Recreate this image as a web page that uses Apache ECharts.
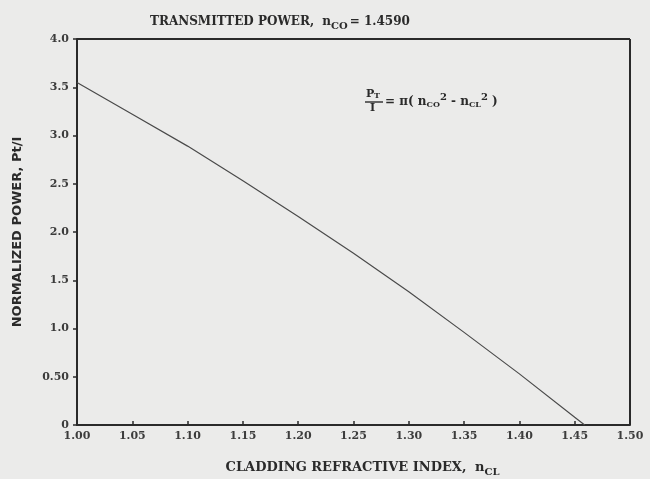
<!DOCTYPE html>
<html>
<head>
<meta charset="utf-8">
<script src="https://cdn.jsdelivr.net/npm/echarts@6/dist/echarts.min.js"></script>
<style>
  html, body { margin: 0; padding: 0; background: #ebebea; }
  #chart { width: 650px; height: 479px; }
</style>
</head>
<body>
<div id="chart"></div>
<script>
const nCl = [1.00, 1.05, 1.10, 1.15, 1.20, 1.25, 1.30, 1.35, 1.40, 1.45, 1.459];
const power = [3.55, 3.22, 2.89, 2.53, 2.16, 1.78, 1.38, 0.96, 0.53, 0.08, 0];
const yTickLabels = { 0: '0', 0.5: '0.50', 1: '1.0', 1.5: '1.5', 2: '2.0', 2.5: '2.5', 3: '3.0', 3.5: '3.5', 4: '4.0' };

const serif = 'DejaVu Serif';
const ink = '#2a2a2a';

const chart = echarts.init(document.getElementById('chart'));

const option = {
  backgroundColor: '#ebebea',
  animation: false,
  title: {
    text: 'TRANSMITTED POWER, {n|n}{sub|CO}{eq|= 1.4590}',
    left: 145,
    top: 7,
    textStyle: {
      fontFamily: serif, fontWeight: 'bold', fontSize: 12, color: ink,
      rich: {
        n: { fontFamily: serif, fontWeight: 'bold', fontSize: 12, color: ink, padding: [0, 0, 0, 4] },
        sub: { fontFamily: serif, fontWeight: 'bold', fontSize: 10, color: ink, padding: [9, 0, 0, 0] },
        eq: { fontFamily: serif, fontWeight: 'bold', fontSize: 12, color: ink, padding: [0, 0, 0, 2] }
      }
    }
  },
  grid: { left: 77, right: 20, top: 39, bottom: 54, outerBoundsMode: 'none' },
  xAxis: {
    type: 'value',
    min: 1.0,
    max: 1.5,
    interval: 0.05,
    name: 'CLADDING REFRACTIVE INDEX, {n|n}{sub|CL}',
    nameLocation: 'middle',
    nameGap: 33,
    nameTextStyle: {
      fontFamily: serif, fontWeight: 'bold', fontSize: 13, color: ink, padding: [0, 0, 0, 18],
      rich: {
        n: { fontFamily: serif, fontWeight: 'bold', fontSize: 13, color: ink, padding: [0, 0, 0, 4] },
        sub: { fontFamily: serif, fontWeight: 'bold', fontSize: 10, color: ink, padding: [9, 0, 0, 0] }
      }
    },
    axisLine: { show: true, onZero: false, lineStyle: { color: ink, width: 2 } },
    axisTick: { show: true, inside: true, length: 4, lineStyle: { color: ink, width: 1.5 } },
    axisLabel: {
      fontFamily: serif, fontWeight: 'bold', fontSize: 11, color: '#3c3c3c', margin: 6,
      formatter: v => v.toFixed(2)
    },
    splitLine: { show: false }
  },
  yAxis: {
    type: 'value',
    min: 0,
    max: 4,
    interval: 0.5,
    name: 'NORMALIZED POWER, Pt/I',
    nameLocation: 'middle',
    nameGap: 53,
    nameTextStyle: { fontFamily: 'DejaVu Sans', fontWeight: 'bold', fontSize: 13, color: ink },
    axisLine: { show: true, onZero: false, lineStyle: { color: ink, width: 2 } },
    axisTick: { show: true, length: 4, lineStyle: { color: ink, width: 1.5 } },
    axisLabel: {
      fontFamily: serif, fontWeight: 'bold', fontSize: 11, color: '#3c3c3c', margin: 8,
      formatter: v => yTickLabels[v] !== undefined ? yTickLabels[v] : ''
    },
    splitLine: { show: false }
  },
  graphic: [
    // frame top and right
    { type: 'line', shape: { x1: 77, y1: 39, x2: 630, y2: 39 }, style: { stroke: ink, lineWidth: 2 } },
    { type: 'line', shape: { x1: 630, y1: 39, x2: 630, y2: 425 }, style: { stroke: ink, lineWidth: 2 } },
    // formula P_T / I = pi(n_CO^2 - n_CL^2)
    { type: 'text', left: 366, top: 89, style: { text: 'P', font: 'bold 11px "DejaVu Serif"', fill: ink } },
    { type: 'text', left: 374, top: 92, style: { text: 'T', font: 'bold 8px "DejaVu Serif"', fill: ink } },
    { type: 'line', shape: { x1: 365, y1: 102, x2: 383, y2: 102 }, style: { stroke: ink, lineWidth: 1.4 } },
    { type: 'text', left: 370, top: 103, style: { text: 'I', font: 'bold 11px "DejaVu Serif"', fill: ink } },
    {
      type: 'text', left: 385, top: 92,
      style: {
        text: '= π( {n|n}{s|CO}{p|2}{m| - }{n|n}{s|CL}{p|2} )',
        font: 'bold 12px "DejaVu Serif"', fill: ink,
        rich: {
          n: { font: 'bold 12px "DejaVu Serif"', fill: ink },
          s: { font: 'bold 8px "DejaVu Serif"', fill: ink, padding: [6, 0, 0, 0] },
          p: { font: 'bold 10px "DejaVu Serif"', fill: ink, padding: [0, 0, 9, 0] },
          m: { font: 'bold 12px "DejaVu Serif"', fill: ink }
        }
      }
    }
  ],
  series: [{
    type: 'line',
    data: nCl.map((x, i) => [x, power[i]]),
    smooth: false,
    showSymbol: false,
    lineStyle: { color: '#4a4a4a', width: 1.2 }
  }]
};

chart.setOption(option);
</script>
</body>
</html>
